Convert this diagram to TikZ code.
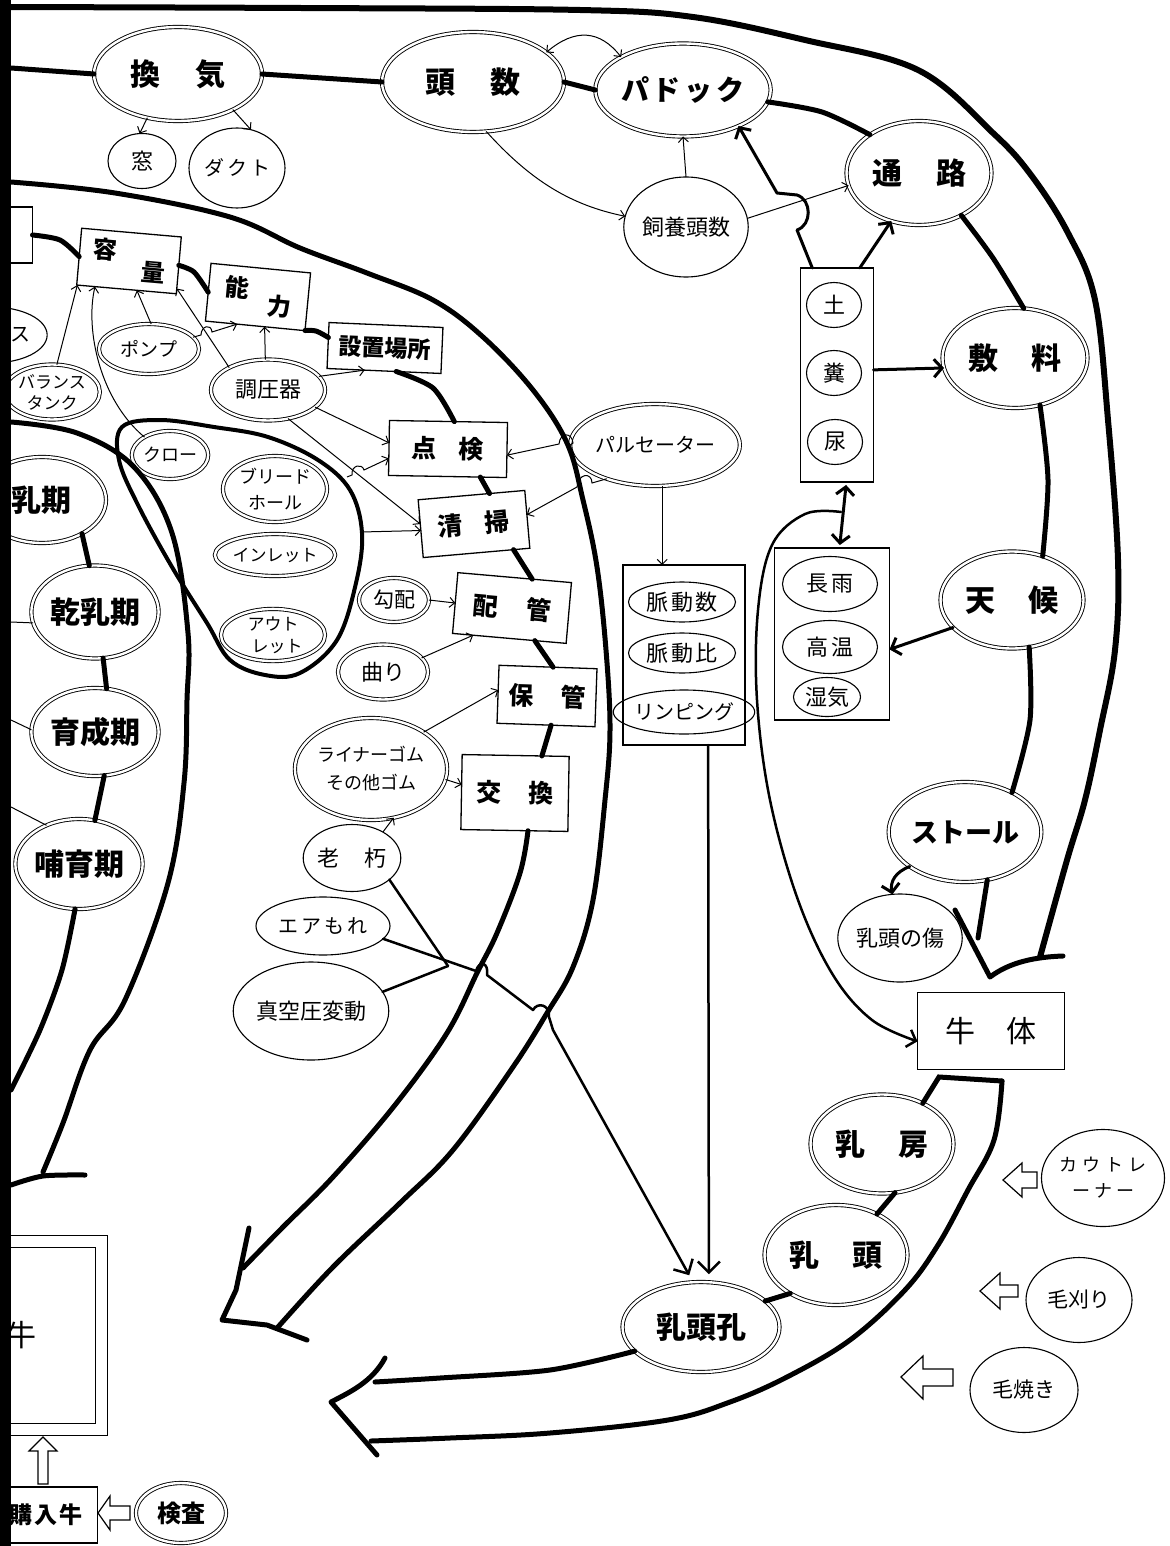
\documentclass[tikz,border=0pt]{standalone}
\usepackage{fontspec}
\setmainfont{Noto Sans CJK JP}
\usetikzlibrary{shapes.geometric,arrows.meta}
\begin{document}
\begin{tikzpicture}[x=1pt,y=-1pt,
  every node/.style={inner sep=0pt,outer sep=0pt,align=center},
  bandl/.style={line width=5pt,line cap=round,line join=round},
  outl/.style={line width=6pt,line cap=round,line join=round},
  midl/.style={line width=2.5pt,line cap=round,line join=round},
  thinl/.style={line width=1pt},
  ta/.style={line width=1pt,-{Straight Barb[length=5pt,width=10pt]}},
  tab/.style={line width=1pt,{Straight Barb[length=5pt,width=10pt]}-{Straight Barb[length=5pt,width=10pt]}},
  Ta/.style={line width=3pt,line cap=round,line join=round,-{Straight Barb[length=8pt,width=18pt]}},
  Tab/.style={line width=3pt,{Straight Barb[length=8pt,width=18pt]}-{Straight Barb[length=8pt,width=18pt]},shorten <=3pt,shorten >=3pt},
  Tc/.style={line width=2.5pt,line cap=round,line join=round,-{Straight Barb[length=11pt,width=22pt]}},
  dbl/.style={ellipse,draw,line width=0.9pt,double,double distance=2.4pt},
  sgl/.style={ellipse,draw,line width=1.1pt},
  bx/.style={rectangle,draw,line width=1.3pt},
  hol/.style={line width=1.2pt,line join=miter},
  fn/.style={font=\fontsize{#1}{#1}\selectfont},
  fb/.style={font=\fontsize{#1}{#1}\selectfont\bfseries},
]
\useasboundingbox (0,0) rectangle (1169,1546);

% ---------------- nodes: top ----------------
\node[dbl,minimum width=168pt,minimum height=94pt,fb=30] (kanki) at (178,74) {換\kern35pt 気};
\node[sgl,minimum width=68pt,minimum height=55pt,fn=22] (mado) at (142,161) {窓};
\node[sgl,minimum width=96pt,minimum height=80pt,fn=20] (dakuto) at (237,168) {ダ\kern3pt ク\kern3pt ト};
\node[dbl,minimum width=182pt,minimum height=100pt,fb=30] (tosu) at (473,82) {頭\kern35pt 数};
\node[dbl,minimum width=170pt,minimum height=93pt,fb=28] (padokku) at (683,90) {パ\kern4pt ド\kern4pt ッ\kern4pt ク};
\node[sgl,minimum width=122pt,minimum height=100pt,fn=22] (shiyo) at (686,227) {飼養頭数};
\node[dbl,minimum width=145pt,minimum height=104pt,fb=30] (tsuro) at (919,173) {通\kern34pt 路};
\node[bx,minimum width=73pt,minimum height=214pt] (dobox) at (837,375) {};
\node[sgl,minimum width=55pt,minimum height=45pt,fn=22] (tsuchi) at (834,305) {土};
\node[sgl,minimum width=55pt,minimum height=45pt,fn=22] (fun) at (834,373) {糞};
\node[sgl,minimum width=55pt,minimum height=45pt,fn=22] (nyo) at (835,442) {尿};
\node[dbl,minimum width=145pt,minimum height=100pt,fb=30] (shikiryo) at (1015,358) {敷\kern33pt 料};
\node[dbl,minimum width=143pt,minimum height=97pt,fb=30] (tenko) at (1012,600) {天\kern33pt 候};
\node[bx,minimum width=115pt,minimum height=172pt] (nagame) at (832,634) {};
\node[sgl,minimum width=95pt,minimum height=55pt,fn=22] (nagaame) at (830,584) {長\kern4pt 雨};
\node[sgl,minimum width=95pt,minimum height=53pt,fn=22] (koon) at (830,647) {高\kern4pt 温};
\node[sgl,minimum width=67pt,minimum height=39pt,fn=22] (shikke) at (827,697) {湿気};
\node[dbl,minimum width=145pt,minimum height=100pt,fb=27] (stall) at (965,832) {ストール};
\node[sgl,minimum width=100pt,minimum height=88pt,fn=22] (kizu) at (900,938) {乳頭の傷};
\node[bx,minimum width=147pt,minimum height=77pt,fn=30] (gyutai) at (991,1031) {牛\kern31pt 体};
\node[dbl,minimum width=143pt,minimum height=99pt,fb=30] (nyubo) at (882,1144) {乳\kern33pt 房};
\node[dbl,minimum width=143pt,minimum height=100pt,fb=30] (nyuto) at (836,1255) {乳\kern33pt 頭};
\node[dbl,minimum width=157pt,minimum height=90pt,fb=30] (nyutoko) at (701,1327) {乳頭孔};
\node[sgl,minimum width=120pt,minimum height=97pt,font=\fontsize{18}{26}\selectfont] (cowt) at (1103,1178) {カ\kern5pt ウ\kern5pt ト\kern5pt レ\\ー\kern4pt ナ\kern4pt ー};
\node[sgl,minimum width=106pt,minimum height=85pt,fn=21] (kegari) at (1079,1300) {毛刈り};
\node[sgl,minimum width=108pt,minimum height=85pt,fn=21] (keyaki) at (1024,1390) {毛焼き};

% ---------------- pulsator ----------------
\node[dbl,minimum width=143pt,minimum height=82pt,fn=20] (pulsator) at (655,445) {パルセーター};
\node[bx,minimum width=122pt,minimum height=180pt] (myakudo) at (684,655) {};
\node[sgl,minimum width=107pt,minimum height=40pt,fn=22] (myakusu) at (682,602) {脈\kern3pt 動\kern3pt 数};
\node[sgl,minimum width=107pt,minimum height=40pt,fn=22] (myakuhi) at (682,653) {脈\kern3pt 動\kern3pt 比};
\node[sgl,minimum width=107pt,minimum height=44pt,fn=20] (rinping) at (684,712) {リンピング};

% ---------------- middle boxes ----------------
\node[bx,minimum width=100pt,minimum height=57pt,rotate=-5,fb=24] (yoryo) at (129,261) {容\kern26pt\raisebox{-19pt}{量}};
\node[bx,minimum width=100pt,minimum height=58pt,rotate=-5.5,fb=24] (noryoku) at (258,297) {能\kern20pt\raisebox{-15pt}{力}};
\node[bx,minimum width=114pt,minimum height=46pt,rotate=-2.5,fb=23] (setti) at (385,348) {設置場所};
\node[bx,minimum width=118pt,minimum height=55pt,rotate=-1,fb=25] (tenken) at (448,449) {点\kern22pt 検};
\node[bx,minimum width=107pt,minimum height=58pt,rotate=5,fb=25] (seisou) at (474,524) {清\kern22pt 掃};
\node[bx,minimum width=114pt,minimum height=61pt,rotate=-5,fb=25] (haikan) at (512,608) {配\kern28pt 管};
\node[bx,minimum width=98pt,minimum height=58pt,rotate=-2,fb=25] (hokan) at (547,696) {保\kern27pt 管};
\node[bx,minimum width=107pt,minimum height=75pt,rotate=-1,fb=25] (kokan) at (515,793) {交\kern27pt 換};

\node[dbl,minimum width=100pt,minimum height=50pt,fn=19] (pump) at (149,349) {ポンプ};
\node[dbl,minimum width=114pt,minimum height=61pt,fn=22] (choatsu) at (268,390) {調圧器};
\node[dbl,minimum width=80pt,minimum height=55pt,font=\fontsize{17}{21}\selectfont] (balance) at (52,392) {バランス\\タンク};
\node[sgl,minimum width=108pt,minimum height=56pt,fn=20] (su) at (-8,335) {\hspace*{58pt}ス};
\node[dbl,minimum width=72pt,minimum height=48pt,fn=18] (claw) at (170,455) {クロー};
\node[dbl,minimum width=104pt,minimum height=66pt,font=\fontsize{18}{26}\selectfont] (bleed) at (275,489) {ブリード\\ホール};
\node[dbl,minimum width=104pt,minimum height=42pt,fn=17] (inlet) at (275,555) {インレット};
\node[dbl,minimum width=104pt,minimum height=48pt,font=\fontsize{17}{22}\selectfont] (outlet) at (273,635) {アウト\\\hspace*{8pt}レット};
\node[dbl,minimum width=70pt,minimum height=44pt,fn=21] (kobai) at (394,600) {勾配};
\node[dbl,minimum width=90pt,minimum height=55pt,fn=22] (magari) at (383,672) {曲り};
\node[dbl,minimum width=147pt,minimum height=102pt,font=\fontsize{18}{28}\selectfont] (liner) at (371,769) {ライナーゴム\\その他ゴム};
\node[sgl,minimum width=96pt,minimum height=67pt,fn=22] (rokyu) at (352,858) {老\kern25pt 朽};
\node[sgl,minimum width=134pt,minimum height=58pt,fn=20] (airmore) at (323,926) {エ\kern3pt ア\kern3pt も\kern3pt れ};
\node[sgl,minimum width=120pt,minimum height=98pt,fn=22] (shinku) at (311,1011) {真空圧変動};

% ---------------- left ----------------
\node[bx,minimum width=53pt,minimum height=56pt] (tlbox) at (6,235) {};
\node[dbl,minimum width=128pt,minimum height=86pt,fb=30] (nyuki) at (42,500) {乳期};
\node[dbl,minimum width=122pt,minimum height=93pt,fb=30] (kannyu) at (95,612) {乾乳期};
\node[dbl,minimum width=126pt,minimum height=88pt,fb=30] (ikusei) at (95,732) {育成期};
\node[dbl,minimum width=126pt,minimum height=90pt,fb=30] (hoiku) at (79,864) {哺育期};
\node[draw,line width=1pt,double,double distance=11pt,minimum width=107pt,minimum height=188pt,fn=30] (gyu) at (48,1335) {牛\hspace*{53pt}};
\node[bx,minimum width=103pt,minimum height=56pt,fb=23] (konyu) at (46,1515) {購\kern2pt 入\kern2pt 牛};
\node[dbl,minimum width=90pt,minimum height=60pt,fb=24] (kensa) at (181,1513) {検査};

% ---------------- outer line (top/right) ----------------
\draw[outl] plot[smooth,tension=0.6] coordinates {(0,7) (300,8) (580,10) (693,17) (805,40) (918,70) (993,133) (1031,175) (1068,233) (1095,300) (1108,420) (1118,560) (1115,650) (1100,730) (1085,800) (1067,860) (1040,957)};

% top chain
\draw[bandl] (11,68) -- (kanki.west);
\draw[bandl] (kanki.east) -- (tosu.west);
\draw[bandl] (tosu.east) -- (padokku.west);
\draw[bandl] plot[smooth] coordinates {(padokku.-8) (822,112) (tsuro.142)};
\draw[bandl] plot[smooth] coordinates {(tsuro.-45) (993,258) (shikiryo.80)};
\draw[bandl] plot[smooth] coordinates {(shikiryo.-62) (1048,480) (tenko.55)};
\draw[bandl] plot[smooth] coordinates {(tenko.-70) (1030,720) (stall.40)};
\draw[bandl] (stall.-65) -- (978,938);
\draw[bandl] (955,910) -- (990,977) .. controls (1010,962) and (1035,957) .. (1063,956);

% middle chain
\draw[bandl] plot[smooth] coordinates {(tlbox.east) (60,240) (yoryo.west)};
\draw[bandl] plot[smooth] coordinates {(yoryo.east) (194,272) (noryoku.west)};
\draw[bandl] plot[smooth] coordinates {(noryoku.-30) (316,331) (setti.172)};
\draw[bandl] plot[smooth] coordinates {(setti.-62) (433,388) (tenken.78)};
\draw[bandl] (tenken.-40) -- (seisou.58);
\draw[bandl] (seisou.-38) -- (haikan.60);
\draw[bandl] (haikan.-50) -- (hokan.80);
\draw[bandl] (hokan.-80) -- (kokan.55);
\draw[bandl] plot[smooth,tension=0.6] coordinates {(kokan.-70) (520,873) (497,933) (477,973) (447,1033) (395,1105) (333,1177) (283,1227) (243,1268)};
\draw[bandl] (249,1228) -- (236,1290) -- (222,1320) -- (267,1325) -- (307,1340);

% line A
\draw[bandl] plot[smooth,tension=0.6] coordinates {(11,182) (115,193) (230,217) (300,248) (367,273) (433,300) (483,337) (533,390) (567,443) (583,500) (597,567) (606,650) (610,730) (605,800) (593,900) (573,967) (547,1013) (513,1067) (453,1150) (400,1203) (333,1267) (278,1327)};

% line B
\draw[bandl] plot[smooth,tension=0.6] coordinates {(11,422) (77,433) (134,467) (172,533) (188,633) (187,700) (184,783) (168,883) (125,1000) (90,1050) (63,1123) (43,1172)};
\draw[bandl] plot[smooth] coordinates {(11,1185) (43,1176) (85,1175)};

% left chain
\draw[bandl] (nyuki.-40) -- (kannyu.97);
\draw[bandl] (kannyu.-80) -- (ikusei.75);
\draw[bandl] (ikusei.-78) -- (hoiku.70);
\draw[bandl] plot[smooth] coordinates {(hoiku.-95) (62,970) (40,1030) (11,1090)};
\draw[thinl] (11,622) -- (kannyu.190);
\draw[thinl] (11,720) -- (ikusei.178);
\draw[thinl] (11,807) -- (hoiku.130);

% bottom band
\draw[bandl,line join=miter] (nyubo.45) -- (939,1077) -- (1002,1081);
\draw[bandl] plot[smooth,tension=0.6] coordinates {(1002,1081) (994,1140) (968,1190) (938,1245) (905,1290) (850,1340) (787,1377) (730,1402) (668,1420) (550,1433) (450,1438) (371,1441)};
\draw[bandl] plot[smooth] coordinates {(nyutoko.-160) (550,1370) (440,1378) (375,1382)};
\draw[bandl] (385,1358) .. controls (372,1382) and (350,1392) .. (331,1402) -- (377,1455);
\draw[bandl] (nyubo.-75) -- (nyuto.45);
\draw[bandl] (nyuto.-140) -- (nyutoko.22);

% loop
\draw[line width=4pt,line join=round] plot[smooth cycle,tension=0.6] coordinates {(122,427) (160,420) (214,427) (268,437) (318,460) (350,490) (362,533) (356,583) (337,640) (300,673) (265,675) (230,660) (207,623) (172,567) (138,505) (119,460)};
\coordinate (L1) at (347,477);
\coordinate (L2) at (361,532);

% ---------------- thin & medium arrows ----------------
\draw[ta] (kanki.-125) -- (mado.95);
\draw[ta] (kanki.-33) -- (dakuto.70);
\draw[tab] (tosu.22) .. controls (575,28) and (600,30) .. (padokku.152);
\draw[ta] (tosu.-75) .. controls (530,180) and (570,205) .. (shiyo.170);
\draw[ta] (shiyo.north) -- (padokku.south);
\draw[ta] (shiyo.8) -- (tsuro.-170);
\draw[Ta] (dobox.103) -- (797,230) .. controls (812,225) and (812,200) .. (797,195) -- (777,193) -- (padokku.-33);
\draw[Ta] (dobox.78) -- (tsuro.-120);
\draw[Ta] (dobox.8) -- (shikiryo.-172);
\draw[Tab] (dobox.-85) -- (nagame.85);
\coordinate (dj) at (841,512);
\draw[Ta,line width=2.5pt] plot[smooth,tension=0.6] coordinates {(dj) (805,514) (772,545) (758,610) (757,700) (770,800) (798,900) (833,975) (872,1020) (gyutai.-172)};
\draw[Ta] (tenko.-155) -- (nagame.-15);
\draw[Ta] (stall.-148) .. controls (895,872) and (890,882) .. (kizu.100);

\draw[ta] (balance.80) -- (yoryo.-150);
\draw[ta] (claw.145) .. controls (100,400) and (85,330) .. (yoryo.-138);
\draw[ta] (pump.85) -- (yoryo.-70);
\draw[ta] (choatsu.150) -- (yoryo.-25);
\draw[ta] (pump.15) -- (201,335) .. controls (201,326) and (211,323) .. (212,332) -- (noryoku.-122);
\draw[ta] (choatsu.95) -- (noryoku.-72);
\draw[ta] (choatsu.15) -- (setti.-130);
\draw[ta] (choatsu.-20) -- (tenken.175);
\draw[ta] (choatsu.-55) -- (seisou.175);
\draw[ta] (L1) -- (352,475) .. controls (351,465) and (362,463) .. (364,470) -- (tenken.-170);
\draw[ta] (L2) -- (seisou.-178);
\draw[ta] (pulsator.west) -- (573,443) .. controls (572,432) and (560,432) .. (559,444) -- (tenken.-5);
\draw[ta] (pulsator.-145) -- (592,483) .. controls (592,472) and (578,473) .. (577,487) -- (seisou.5);
\draw[ta] (pulsator.-80) -- (pulsator.-80 |- myakudo.north);
\draw[Tc,shorten >=8pt] (myakudo.-75) -- (nyutoko.80);
\draw[ta] (kobai.east) -- (haikan.west);
\draw[ta] (magari.20) -- (haikan.-140);
\draw[ta] (liner.35) -- (hokan.175);
\draw[ta] (liner.-8) -- (kokan.172);
\draw[ta] (rokyu.40) -- (liner.-65);
\coordinate (J) at (448,966);
\draw[midl] (rokyu.-30) -- (J);
\draw[midl] (shinku.15) -- (J);
\draw[Tc,shorten >=8pt] (airmore.-12) -- (476,971) .. controls (479,960) and (489,962) .. (487,975) -- (533,1010) .. controls (537,1002) and (550,1004) .. (549,1017) -- (553,1030) -- (nyutoko.100);

% hollow arrows
\draw[hol] (1003,1180) -- (1022,1163) -- (1022,1172) -- (1037,1172) -- (1037,1188) -- (1022,1188) -- (1022,1197) -- cycle;
\draw[hol] (980,1291) -- (1000,1273) -- (1000,1285) -- (1018,1285) -- (1018,1297) -- (1000,1297) -- (1000,1309) -- cycle;
\draw[hol] (901,1377) -- (923,1356) -- (923,1369) -- (953,1369) -- (953,1386) -- (923,1386) -- (923,1399) -- cycle;
\draw[hol] (43,1437) -- (57,1451) -- (48,1451) -- (48,1484) -- (38,1484) -- (38,1451) -- (29,1451) -- cycle;
\draw[hol] (98,1513) -- (110,1496) -- (110,1506) -- (130,1506) -- (130,1520) -- (110,1520) -- (110,1530) -- cycle;

% left bar
\fill (0,0) rectangle (11,1546);
\end{tikzpicture}
\end{document}
